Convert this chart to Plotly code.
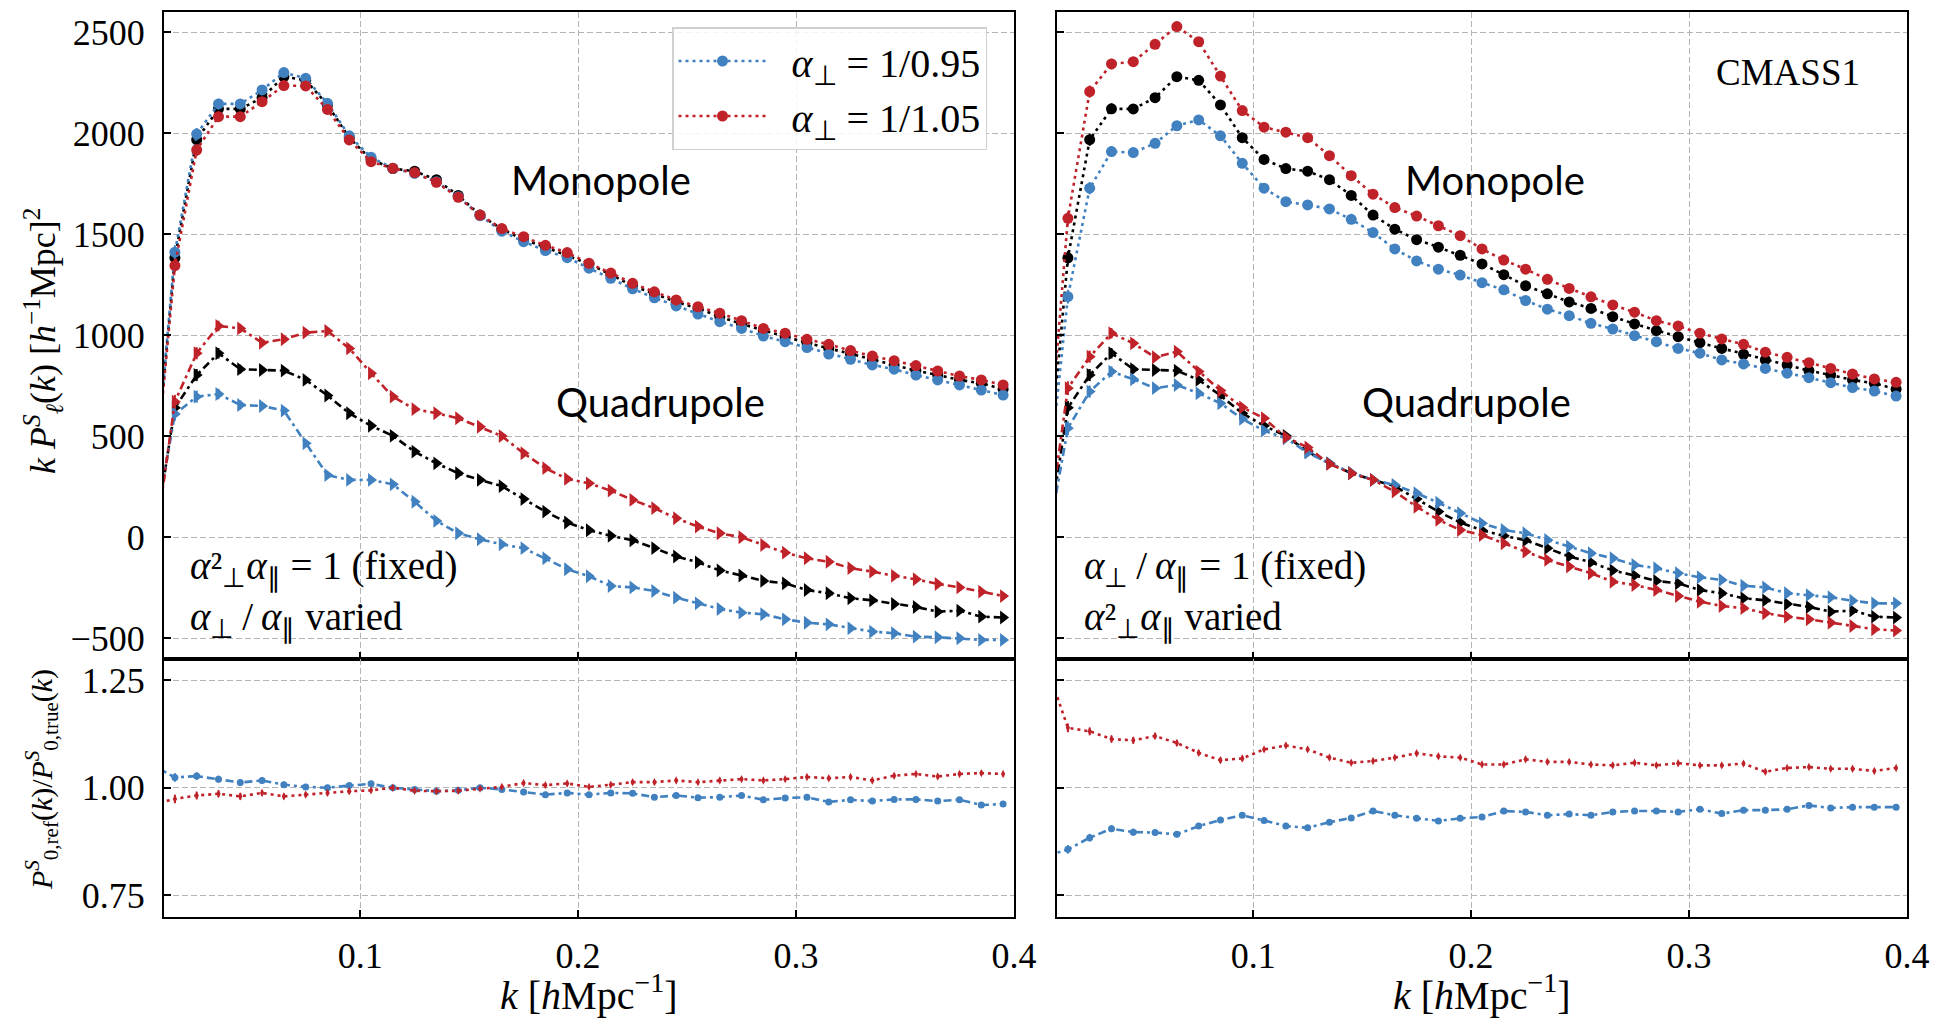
import plotly.graph_objects as go

# ---------------- data ----------------
k = [0.005, 0.015, 0.025, 0.035, 0.045, 0.055, 0.065, 0.075, 0.085, 0.095,
     0.105, 0.115, 0.125, 0.135, 0.145, 0.155, 0.165, 0.175, 0.185, 0.195,
     0.205, 0.215, 0.225, 0.235, 0.245, 0.255, 0.265, 0.275, 0.285, 0.295,
     0.305, 0.315, 0.325, 0.335, 0.345, 0.355, 0.365, 0.375, 0.385, 0.395]

# reference (true) multipoles, shared by both panels
mono_true = [200, 1383, 1968, 2121, 2120, 2176, 2280, 2262, 2140, 1978,
             1870, 1825, 1812, 1770, 1692, 1595, 1525, 1473, 1436, 1396,
             1353, 1300, 1245, 1205, 1165, 1133, 1092, 1056, 1023, 993,
             963, 935, 906, 878, 853, 825, 803, 779, 762, 733]
quad_true = [-50, 641, 803, 911, 832, 828, 825, 779, 702, 614,
             552, 502, 424, 366, 317, 284, 253, 189, 127, 73,
             35, 7, -15, -54, -95, -124, -164, -189, -216, -228,
             -261, -277, -302, -312, -330, -345, -368, -363, -393, -397]

# left panel: alpha_perp^2 alpha_par = 1 fixed
mono_L_blue = [210, 1411, 1996, 2145, 2145, 2214, 2300, 2272, 2148, 1987,
               1881, 1826, 1801, 1760, 1686, 1592, 1515, 1463, 1419, 1384,
               1332, 1282, 1230, 1185, 1145, 1105, 1067, 1034, 996, 968,
               939, 907, 881, 853, 832, 803, 779, 754, 729, 704]
mono_L_red = [192, 1345, 1917, 2082, 2082, 2156, 2236, 2234, 2118, 1967,
              1859, 1826, 1805, 1757, 1683, 1595, 1528, 1488, 1445, 1409,
              1356, 1308, 1257, 1215, 1175, 1141, 1109, 1072, 1034, 1010,
              980, 955, 924, 897, 874, 850, 823, 798, 779, 754]
quad_L_blue = [0, 610, 696, 709, 655, 650, 627, 465, 308, 284,
               284, 262, 176, 81, 20, -10, -35, -54, -104, -158,
               -193, -241, -248, -266, -299, -327, -355, -373, -381, -406,
               -423, -431, -450, -467, -475, -492, -495, -500, -508, -508]
quad_L_red = [-100, 671, 911, 1046, 1034, 963, 980, 1013, 1021, 935,
              812, 696, 634, 614, 589, 547, 501, 416, 342, 289,
              267, 231, 185, 144, 94, 53, 20, 0, -38, -76,
              -104, -121, -153, -170, -191, -208, -231, -248, -269, -291]

# right panel: alpha_perp/alpha_par = 1 fixed
mono_R_blue = [168, 1191, 1728, 1909, 1904, 1950, 2037, 2066, 1987, 1851,
               1728, 1661, 1645, 1625, 1574, 1508, 1427, 1368, 1327, 1298,
               1260, 1225, 1172, 1129, 1097, 1059, 1031, 998, 968, 935,
               911, 878, 858, 836, 812, 790, 765, 741, 724, 699]
mono_R_red = [257, 1579, 2206, 2343, 2354, 2440, 2528, 2453, 2283, 2112,
              2030, 2005, 1978, 1889, 1790, 1698, 1632, 1590, 1542, 1493,
              1427, 1372, 1327, 1277, 1232, 1190, 1150, 1114, 1072, 1046,
              1010, 982, 955, 916, 891, 864, 836, 808, 784, 767]
quad_R_blue = [-60, 540, 721, 820, 782, 738, 754, 713, 663, 586,
               528, 490, 419, 366, 320, 284, 259, 218, 171, 119,
               69, 36, 20, -13, -46, -79, -104, -137, -153, -178,
               -198, -211, -240, -248, -277, -286, -297, -314, -327, -327]
quad_R_red = [-40, 738, 894, 1010, 960, 891, 919, 820, 726, 643,
              589, 495, 445, 363, 317, 284, 226, 151, 86, 36,
              11, -30, -71, -112, -145, -178, -220, -236, -261, -291,
              -319, -340, -351, -376, -393, -406, -423, -439, -455, -462]

# ratio P0_ref / P0_true
ratio_L_blue = [1.052, 1.024, 1.027, 1.020, 1.012, 1.017, 1.007, 1.002, 1.000, 1.005,
                1.009, 1.000, 0.996, 0.992, 0.994, 1.000, 0.996, 0.990, 0.984, 0.988,
                0.984, 0.988, 0.987, 0.978, 0.982, 0.977, 0.978, 0.982, 0.972, 0.976,
                0.978, 0.967, 0.972, 0.969, 0.973, 0.973, 0.969, 0.972, 0.960, 0.962]
ratio_L_red = [0.962, 0.974, 0.982, 0.986, 0.980, 0.988, 0.980, 0.984, 0.988, 0.992,
               0.994, 1.000, 0.993, 0.992, 0.993, 0.998, 1.002, 1.011, 1.006, 1.010,
               1.002, 1.007, 1.013, 1.013, 1.017, 1.013, 1.017, 1.020, 1.017, 1.020,
               1.025, 1.022, 1.025, 1.017, 1.028, 1.032, 1.026, 1.032, 1.034, 1.032]
ratio_R_blue = [0.841, 0.857, 0.884, 0.905, 0.897, 0.896, 0.892, 0.911, 0.925, 0.936,
                0.924, 0.911, 0.907, 0.920, 0.930, 0.946, 0.936, 0.929, 0.923, 0.929,
                0.932, 0.946, 0.944, 0.936, 0.939, 0.936, 0.944, 0.946, 0.946, 0.944,
                0.950, 0.940, 0.948, 0.948, 0.950, 0.959, 0.953, 0.955, 0.955, 0.955]
ratio_R_red = [1.287, 1.139, 1.131, 1.113, 1.110, 1.120, 1.104, 1.081, 1.064, 1.068,
               1.089, 1.098, 1.089, 1.070, 1.058, 1.062, 1.070, 1.080, 1.073, 1.070,
               1.054, 1.054, 1.066, 1.060, 1.060, 1.054, 1.052, 1.058, 1.052, 1.057,
               1.052, 1.052, 1.056, 1.037, 1.046, 1.048, 1.044, 1.044, 1.039, 1.046]

# error bars (estimated)
err_pk = [40, 34, 30, 26, 22, 18, 15, 13, 11, 10,
          9, 8, 7, 7, 6, 6, 5, 5, 5, 4,
          4, 4, 4, 3, 3, 3, 3, 3, 3, 3,
          2, 2, 2, 2, 2, 2, 2, 2, 2, 2]
err_ratio = [0.012, 0.010, 0.009, 0.008, 0.008, 0.007, 0.007, 0.006, 0.006, 0.006,
             0.005, 0.005, 0.005, 0.005, 0.005, 0.005, 0.005, 0.005, 0.005, 0.005,
             0.005, 0.005, 0.005, 0.005, 0.005, 0.005, 0.005, 0.005, 0.005, 0.005,
             0.005, 0.005, 0.005, 0.005, 0.005, 0.005, 0.005, 0.005, 0.005, 0.005]

legend_labels = ["&nbsp;&nbsp;<i>α</i><sub>⊥</sub> = 1/0.95",
                 "&nbsp;&nbsp;<i>α</i><sub>⊥</sub> = 1/1.05"]
x_ticks = [0.1, 0.2, 0.3, 0.4]
y_ticks_top = [-500, 0, 500, 1000, 1500, 2000, 2500]
y_ticks_bot = [0.75, 1.00, 1.25]

# ---------------- style ----------------
BLUE = "#4181c0"
RED = "#c0222a"
BLACK = "#000000"
SERIF = "Liberation Serif"
SANS = "Lato"
DOT = "3px,4px"
DASHDOT = "8px,4px,3px,4px"

fig = go.Figure()


def add(x, y, err, xa, ya, color, symbol, size, dash, name=None, legend=False):
    fig.add_trace(go.Scatter(
        x=x, y=y, xaxis=xa, yaxis=ya, mode="lines+markers",
        name=name, showlegend=legend,
        line=dict(color=color, width=2.6, dash=dash),
        marker=dict(color=color, symbol=symbol, size=size, line=dict(width=0)),
        error_y=dict(type="data", array=err, color=color, thickness=2, width=0),
    ))


for xa, ya, mb, mr, qb, qr, is_left in [
    ("x", "y", mono_L_blue, mono_L_red, quad_L_blue, quad_L_red, True),
    ("x2", "y2", mono_R_blue, mono_R_red, quad_R_blue, quad_R_red, False),
]:
    add(k, quad_true, err_pk, xa, ya, BLACK, "triangle-right", 12, DASHDOT)
    add(k, qb, err_pk, xa, ya, BLUE, "triangle-right", 12, DASHDOT)
    add(k, qr, err_pk, xa, ya, RED, "triangle-right", 12, DASHDOT)
    add(k, mono_true, err_pk, xa, ya, BLACK, "circle", 11, DOT)
    add(k, mb, err_pk, xa, ya, BLUE, "circle", 11, DOT,
        name=legend_labels[0], legend=is_left)
    add(k, mr, err_pk, xa, ya, RED, "circle", 11, DOT,
        name=legend_labels[1], legend=is_left)

for xa, ya, rb, rr in [("x3", "y3", ratio_L_blue, ratio_L_red),
                       ("x4", "y4", ratio_R_blue, ratio_R_red)]:
    add(k, rb, err_ratio, xa, ya, BLUE, "circle", 7, DASHDOT)
    add(k, rr, err_ratio, xa, ya, RED, "diamond-tall", 6, DOT)

W, H = 1945, 1029
xL = [164 / W, 1014 / W]
xR = [1057 / W, 1907 / W]
ySplit = 1 - 658.5 / H
yT = [ySplit, 1 - 12 / H]
yB = [1 - 917 / H, ySplit]

tickfont = dict(family=SERIF, size=36, color="black")
axis_common = dict(
    showline=True, linecolor="black", linewidth=2, mirror=True,
    ticks="inside", ticklen=7, tickwidth=2, tickcolor="black",
    showgrid=True, gridcolor="#b4b4b4", gridwidth=1.4, griddash="6px,3px",
    zeroline=False, tickfont=tickfont, automargin=False,
)


def xaxis(domain, anchor, labels):
    return dict(axis_common, domain=domain, anchor=anchor, range=[0.01, 0.4],
                tickvals=x_ticks, ticktext=["%.1f" % v for v in x_ticks],
                showticklabels=labels, ticklabelstandoff=6)


def yaxis_top(domain, anchor, labels):
    return dict(axis_common, domain=domain, anchor=anchor, range=[-600, 2600],
                tickvals=y_ticks_top,
                ticktext=[("−%d" % -v) if v < 0 else "%d" % v for v in y_ticks_top],
                showticklabels=labels, ticklabelstandoff=10)


def yaxis_bot(domain, anchor, labels):
    return dict(axis_common, domain=domain, anchor=anchor, range=[0.7, 1.3],
                tickvals=y_ticks_bot, ticktext=["%.2f" % v for v in y_ticks_bot],
                showticklabels=labels, ticklabelstandoff=10)


annotations = []


def text(x, y, s, size, family, xanchor="center", yanchor="middle", angle=0):
    annotations.append(dict(
        x=x / W, y=1 - y / H, xref="paper", yref="paper", text=s,
        showarrow=False, xanchor=xanchor, yanchor=yanchor, textangle=angle,
        align="left", font=dict(family=family, size=size, color="black")))


TS = "\u2009"  # thin space
A2 = "<i>α</i>\u00b2"  # alpha squared
text(601, 180, "Monopole", 40, SANS)
text(660, 402, "Quadrupole", 40, SANS)
text(1495, 180, "Monopole", 40, SANS)
text(1466, 402, "Quadrupole", 40, SANS)
text(1862, 72, "CMASS1", 37, SERIF, xanchor="right")
text(188, 594,
     A2 + "<sub>⊥</sub><i>α</i><sub>∥</sub> = 1 (fixed)<br>"
     "<i>α</i><sub>⊥</sub>" + TS + "/" + TS + "<i>α</i><sub>∥</sub> varied",
     39, SERIF, xanchor="left")
text(1082, 594,
     "<i>α</i><sub>⊥</sub>" + TS + "/" + TS + "<i>α</i><sub>∥</sub> = 1 (fixed)<br>"
     + A2 + "<sub>⊥</sub><i>α</i><sub>∥</sub> varied",
     39, SERIF, xanchor="left")
text(43, 341, "<i>k P</i><sup><i>S</i></sup><sub><i>ℓ</i></sub>(<i>k</i>) [<i>h</i><sup>−1</sup>Mpc]<sup>2</sup>",
     36, SERIF, angle=-90)
text(41, 780, "<i>P</i><sup><i>S</i></sup><sub>0,ref</sub>(<i>k</i>)/<i>P</i><sup><i>S</i></sup><sub>0,true</sub>(<i>k</i>)",
     30, SERIF, angle=-90)
text(589, 992, "<i>k</i> [<i>h</i>Mpc<sup>−1</sup>]", 40, SERIF)
text(1482, 992, "<i>k</i> [<i>h</i>Mpc<sup>−1</sup>]", 40, SERIF)

fig.update_layout(
    width=W, height=H, autosize=False,
    margin=dict(l=0, r=0, t=0, b=0, autoexpand=False),
    paper_bgcolor="white", plot_bgcolor="white",
    xaxis=xaxis(xL, "y", False),
    yaxis=yaxis_top(yT, "x", True),
    xaxis2=xaxis(xR, "y2", False),
    yaxis2=yaxis_top(yT, "x2", False),
    xaxis3=xaxis(xL, "y3", True),
    yaxis3=yaxis_bot(yB, "x3", True),
    xaxis4=xaxis(xR, "y4", True),
    yaxis4=yaxis_bot(yB, "x4", False),
    showlegend=True,
    legend=dict(x=672 / W, y=1 - 27 / H, xanchor="left", yanchor="top",
                bgcolor="rgba(255,255,255,0.85)", bordercolor="#d0d0d0",
                borderwidth=1.5, font=dict(family=SERIF, size=40, color="black"),
                itemwidth=88, tracegroupgap=0),
    annotations=annotations,
)

fig.write_html("out.html")
